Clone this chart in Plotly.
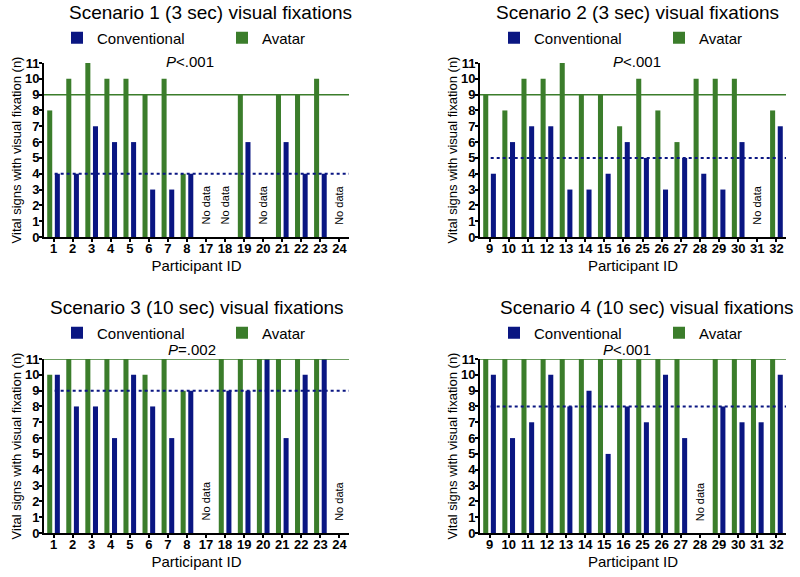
import plotly.graph_objects as go

# participant ids per scenario
ids_a = ["1", "2", "3", "4", "5", "6", "7", "8", "17", "18", "19", "20", "21", "22", "23", "24"]
ids_b = ["9", "10", "11", "12", "13", "14", "15", "16", "25", "26", "27", "28", "29", "30", "31", "32"]

# vital signs with visual fixation (n); None = no data
s1_avatar = [8, 10, 11, 10, 10, 9, 10, 4, None, None, 9, None, 9, 9, 10, None]
s1_conv = [4, 4, 7, 6, 6, 3, 3, 4, None, None, 6, None, 6, 4, 4, None]
s2_avatar = [9, 8, 10, 10, 11, 9, 9, 7, 10, 8, 6, 10, 10, 10, None, 8]
s2_conv = [4, 6, 7, 7, 3, 3, 4, 6, 5, 3, 5, 4, 3, 6, None, 7]
s3_avatar = [10, 11, 11, 11, 11, 10, 11, 9, None, 11, 11, 11, 11, 11, 11, None]
s3_conv = [10, 8, 8, 6, 10, 8, 6, 9, None, 9, 9, 11, 6, 10, 11, None]
s4_avatar = [11, 11, 11, 11, 11, 11, 11, 11, 11, 11, 11, None, 11, 11, 11, 11]
s4_conv = [10, 6, 7, 10, 8, 9, 5, 8, 7, 10, 6, None, 8, 7, 7, 10]

# medians (horizontal reference lines)
med_avatar = [9, 9, 11, 11]
med_conv = [4, 5, 9, 8]

titles = [
    "Scenario 1 (3 sec) visual fixations",
    "Scenario 2 (3 sec) visual fixations",
    "Scenario 3 (10 sec) visual fixations",
    "Scenario 4 (10 sec) visual fixations",
]
p_labels = ["<i>P</i><.001", "<i>P</i><.001", "<i>P</i>=.002", "<i>P</i><.001"]

GREEN = "#3b7d2b"
NAVY = "#0a1682"
FONT = "Liberation Sans, Arial, sans-serif"

panels = [
    (ids_a, s1_avatar, s1_conv),
    (ids_b, s2_avatar, s2_conv),
    (ids_a, s3_avatar, s3_conv),
    (ids_b, s4_avatar, s4_conv),
]

W, H = 800, 577


def px(x):
    return x / W


def py(y):
    return 1 - y / H


# panel frames in page pixels: (left, right), (top, bottom)
xframes = [(44, 349), (480, 786)]
yframes = [(63, 237), (359, 533)]
# per-panel text placement (page pixels)
title_pos = [(210, 12), (637, 12), (197, 307), (647, 307)]
p_pos = [(190, 61), (637, 61), (192, 349), (627, 349)]
legend_pos = [(57, 38), (494, 38), (57, 333), (494, 333)]

yticks = list(range(0, 12))

fig = go.Figure()
layout = {}
annotations = []
shapes = []

for i, (ids, av, cv) in enumerate(panels):
    n = i + 1
    sfx = "" if n == 1 else str(n)
    xa, ya = "x" + sfx, "y" + sfx
    lg = "legend" + sfx
    col, row = i % 2, i // 2
    pos = list(range(len(ids)))

    fig.add_trace(go.Bar(x=pos, y=av, name="Avatar", marker=dict(color=GREEN, line=dict(width=0)),
                         xaxis=xa, yaxis=ya, legend=lg, legendrank=2))
    fig.add_trace(go.Bar(x=pos, y=cv, name="Conventional", marker=dict(color=NAVY, line=dict(width=0)),
                         xaxis=xa, yaxis=ya, legend=lg, legendrank=1))

    xl, xr = xframes[col]
    yt, yb = yframes[row]
    layout["xaxis" + sfx] = dict(
        domain=[px(xl), px(xr)], anchor=ya, range=[-0.5, len(ids) - 0.5],
        tickmode="array", tickvals=pos, ticktext=[f"<b>{t}</b>" for t in ids],
        showline=True, linecolor="black", linewidth=2, ticks="outside", ticklen=3, tickwidth=1.5,
        tickcolor="black", tickfont=dict(size=13, family=FONT, color="black"), ticklabelstandoff=-5,
        title=dict(text="Participant ID", font=dict(size=15, family=FONT, color="black"), standoff=6),
        showgrid=False, zeroline=False, fixedrange=True,
    )
    layout["yaxis" + sfx] = dict(
        domain=[py(yb), py(yt)], anchor=xa, range=[0, 11],
        tickmode="array", tickvals=yticks, ticktext=[f"<b>{t}</b>" for t in yticks],
        showline=True, linecolor="black", linewidth=2, ticks="outside", ticklen=3, tickwidth=1.5,
        tickcolor="black", tickfont=dict(size=13, family=FONT, color="black"), ticklabelstandoff=-3,
        title=dict(text="Vital signs with visual fixation (n)", font=dict(size=13, family=FONT, color="black"),
                   standoff=0),
        showgrid=False, zeroline=False, fixedrange=True,
    )

    lx, ly = legend_pos[i]
    layout[lg] = dict(
        orientation="h", x=px(lx), xanchor="left", y=py(ly), yanchor="middle",
        entrywidth=120, font=dict(size=15, family=FONT, color="black"), bgcolor="rgba(0,0,0,0)",
        itemwidth=30, tracegroupgap=0,
    )

    tx, ty = title_pos[i]
    annotations.append(dict(
        text=titles[i], xref="paper", yref="paper", x=px(tx), y=py(ty),
        xanchor="center", yanchor="middle", showarrow=False, font=dict(size=19, family=FONT, color="black"),
    ))
    pxx, pyy = p_pos[i]
    annotations.append(dict(
        text=p_labels[i], xref="paper", yref="paper", x=px(pxx), y=py(pyy),
        xanchor="center", yanchor="middle", showarrow=False, font=dict(size=15, family=FONT, color="black"),
    ))
    for p, a, c in zip(pos, av, cv):
        if a is None and c is None:
            annotations.append(dict(
                text="No data", x=p, y=2, xref=xa, yref=ya, textangle=-90, showarrow=False,
                font=dict(size=11, family=FONT, color="black"),
            ))

    shapes.append(dict(type="line", xref=xa + " domain", yref=ya, x0=0, x1=1,
                       y0=med_avatar[i], y1=med_avatar[i], line=dict(color=GREEN, width=1.5)))
    shapes.append(dict(type="line", xref=xa + " domain", yref=ya, x0=0.035, x1=1,
                       y0=med_conv[i], y1=med_conv[i], line=dict(color=NAVY, width=2, dash="dot")))

fig.update_layout(
    **layout,
    annotations=annotations,
    shapes=shapes,
    barmode="group",
    bargap=0.2,
    bargroupgap=0.34,
    width=W,
    height=H,
    margin=dict(l=0, r=0, t=0, b=0, autoexpand=False),
    paper_bgcolor="white",
    plot_bgcolor="white",
    font=dict(family=FONT, color="black"),
)

# drop the browser's default body margin so the figure fills the window
fig.write_html("out.html", config={"displayModeBar": False},
               post_script="document.body.style.margin = '0';")
